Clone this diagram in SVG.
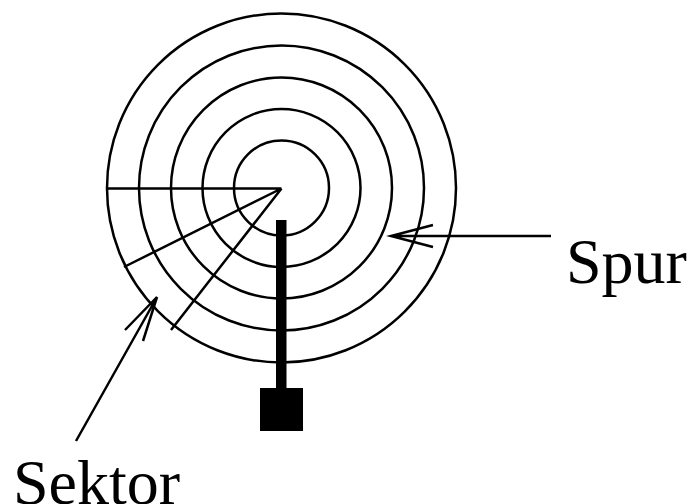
<svg xmlns="http://www.w3.org/2000/svg" width="689" height="504" viewBox="0 0 689 504">
<style>
.t{fill:none;stroke:#000;stroke-width:2.500}
.l{font-family:"Liberation Serif","Times New Roman",serif;font-size:64px;fill:#000}
</style>
<rect width="689" height="504" fill="#fff"/>
<g id="disk">
<circle class="t" cx="281.500" cy="188" r="174.500"/>
<circle class="t" cx="281.500" cy="188" r="142.500"/>
<circle class="t" cx="281.500" cy="188" r="110.500"/>
<circle class="t" cx="281.500" cy="188" r="79"/>
<circle class="t" cx="281.500" cy="188" r="47.500"/>
</g>
<g id="sectors">
<path class="t" d="M107 188.500H281.500M124 267L281.500 188.500M171 330L281.500 188.500"/>
</g>
<g id="arm">
<rect x="276" y="220" width="10.500" height="170" fill="#000"/>
<rect x="260" y="388" width="43" height="43" fill="#000"/>
</g>
<g id="connectors">
<path class="t" d="M551 236H391M433 225L391 236L433 247"/>
<path class="t" d="M76 441L157 297M125 330L157 297L143 341"/>
</g>
<g id="label-spur"><text class="l" x="566" y="283">Spur</text></g>
<g id="label-sektor"><text class="l" x="13" y="504">Sektor</text></g>
</svg>
